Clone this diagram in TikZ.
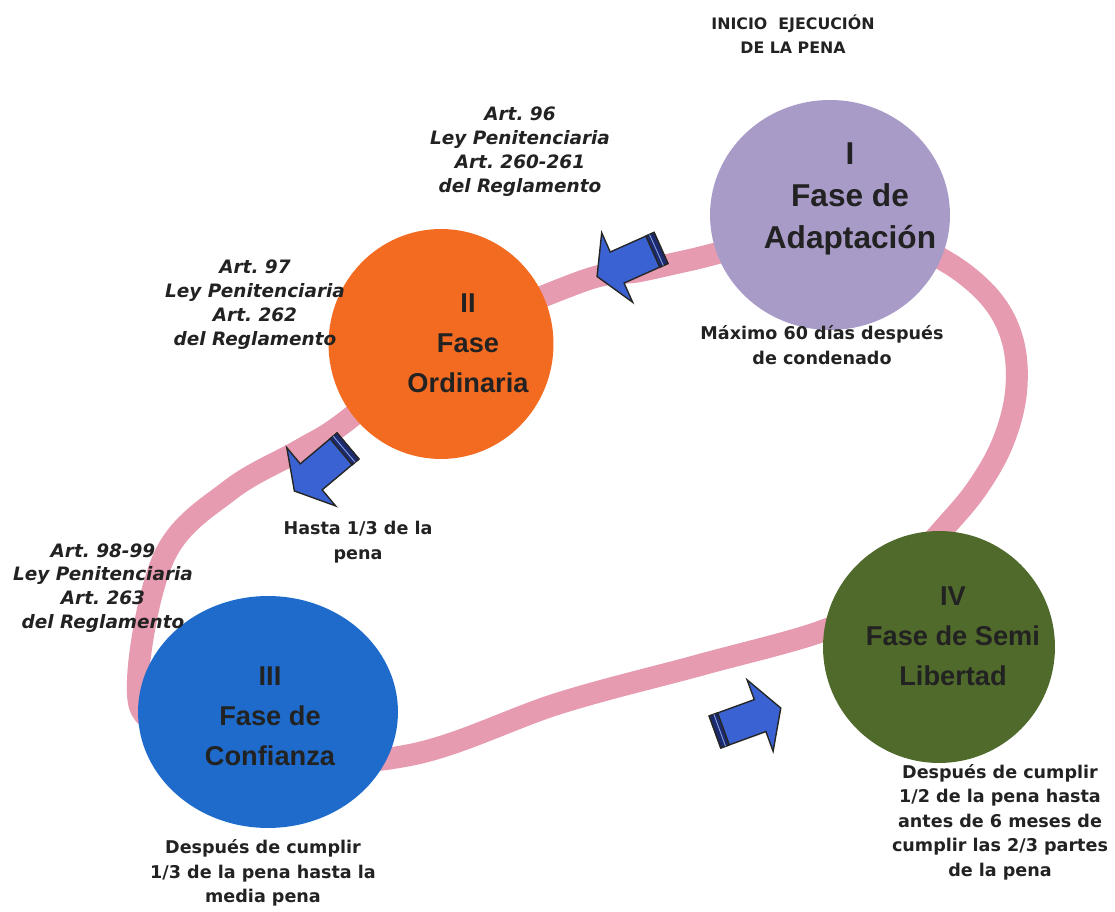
\documentclass[tikz,border=0pt]{standalone}
\usepackage{fontspec}
\setmainfont{DejaVu Sans}
\newfontfamily\circfont{Liberation Sans}
\usetikzlibrary{positioning,shapes.geometric}
\definecolor{faseI}{HTML}{A99BC8}
\definecolor{faseII}{HTML}{F26B21}
\definecolor{faseIII}{HTML}{1F6BCB}
\definecolor{faseIV}{HTML}{4F6A2B}
\definecolor{anillo}{HTML}{E69BB0}
\definecolor{flecha}{HTML}{3A62D2}
\definecolor{flechaosc}{HTML}{1C2A70}
\definecolor{tinta}{HTML}{222222}
\frenchspacing
\begin{document}
\begin{tikzpicture}[x=0.02cm,y=0.02cm,
  fase/.style={ellipse,inner sep=0pt},
  fasetxt/.style={font=\circfont\bfseries\fontsize{15.5}{22.7}\selectfont,align=center,text=tinta},
  art/.style={font=\bfseries\itshape\fontsize{10.5}{13.6}\selectfont,align=center,text=tinta},
  nota/.style={font=\bfseries\fontsize{10}{14}\selectfont,align=center,text=tinta},
  pics/blkarrow/.style={code={
    \draw[fill=flecha,draw=black!85,line width=0.8pt,line join=miter]
      (0,-17) -- (48,-17) -- (48,-38) -- (70,0) -- (48,38) -- (48,17) -- (0,17) -- cycle;
    \draw[fill=flechaosc,draw=black!85,line width=0.8pt] (0,-17) rectangle (9,17);
    \draw[flecha!60!white,line width=0.5pt] (5,-17) -- (5,17);
  }}]
\useasboundingbox (0,0) rectangle (1115,912);

% anillo
\draw[anillo,line width=12.5pt] plot[smooth cycle,tension=0.6] coordinates {
  (580,630) (640,641) (690,652) (800,676) (900,668) (950,648) (992,612)
  (1013,570) (1016,520) (1003,470) (978,425) (945,385) (880,315) (825,282)
  (700,247) (560,209) (410,157) (260,150) (160,185) (138,232) (165,357)
  (230,422) (300,462) (345,490) (440,567)};

% fases
\node[fase,fill=faseI,minimum width=4.8cm,minimum height=4.6cm] (adapt) at (830,697) {};
\node[fase,fill=faseII,minimum width=4.5cm,minimum height=4.6cm] (ordin) at (441,568) {};
\node[fase,fill=faseIII,minimum width=5.2cm,minimum height=4.64cm] (confi) at (268,200) {};
\node[fase,fill=faseIV,minimum width=4.64cm,minimum height=4.64cm] (semil) at (939,265) {};

\node[fasetxt,font=\circfont\bfseries\fontsize{18}{24}\selectfont] (adapttxt) at (850,713) {I\\Fase de\\Adaptación};
\node[fasetxt] (ordintxt) at (468,569) {II\\Fase\\Ordinaria};
\node[fasetxt] (confitxt) at (270,196) {III\\Fase de\\Confianza};
\node[fasetxt] (semiltxt) at (953,276) {IV\\Fase de Semi\\Libertad};

% flechas
\pic[rotate=204] (fl1) at (661,664) {blkarrow};
\pic[rotate=220] (fl2) at (348,466) {blkarrow};
\pic[rotate=20] (fl3) at (715,180) {blkarrow};

% textos
\node[font=\bfseries\fontsize{9}{14}\selectfont,align=center,text=tinta] (inicio) at (793,878)
  {INICIO\ \ EJECUCIÓN\\DE LA PENA};
\node[art] (art96) at (520,760) {Art. 96\\Ley Penitenciaria\\Art. 260-261\\del Reglamento};
\node[art] (art97) at (255,607) {Art. 97\\Ley Penitenciaria\\Art. 262\\del Reglamento};
\node[art] (art98) at (103,324) {Art. 98-99\\Ley Penitenciaria\\Art. 263\\del Reglamento};
\node[nota] (maximo) at (822,567) {Máximo 60 días después\\de condenado};
\node[nota] (hasta) at (358,370) {Hasta 1/3 de la\\pena};
\node[nota] (despIII) at (263,39) {Después de cumplir\\1/3 de la pena hasta la\\media pena};
\node[nota] (despIV) at (1000,90) {Después de cumplir\\1/2 de la pena hasta\\antes de 6 meses de\\cumplir las 2/3 partes\\de la pena};
\end{tikzpicture}
\end{document}
